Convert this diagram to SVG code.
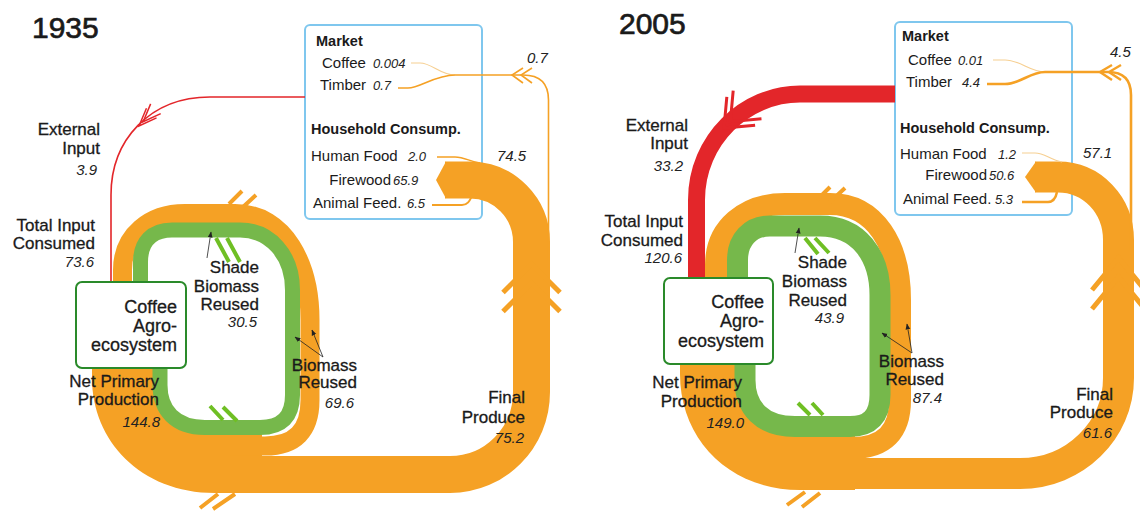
<svg xmlns="http://www.w3.org/2000/svg" width="1140" height="511" viewBox="0 0 1140 511">
<style>
text{font-family:"Liberation Sans",Arial,Helvetica,sans-serif;fill:#1a1a1a}
.t{font-size:30px;stroke:#1a1a1a;stroke-width:0.7}
.lb{font-size:17px;stroke:#1a1a1a;stroke-width:0.3}
.bx{font-size:18px;stroke:#1a1a1a;stroke-width:0.3}
.v{font-size:15px;font-style:italic;fill:#222}
.m{font-size:15px}
.mb{font-size:14.5px;font-weight:bold}
.mv{font-size:13px;font-style:italic;fill:#222}
.e{text-anchor:end}
.or{fill:none;stroke:#f5a125}
.orf{fill:#f5a125}
.gr{fill:none;stroke:#76b84b}
.rd{fill:none;stroke:#e3262a}
.pale{fill:none;stroke:#f6cf91}
.bo{stroke:#f5a125;stroke-width:4;fill:none}
.bg{stroke:#6fbf24;stroke-width:4;fill:none}
.ar{stroke:#222;stroke-width:0.8;fill:none;marker-end:url(#ah)}
.node-c rect{fill:#fff;stroke:#2a8a2a;stroke-width:2}
.node-m rect{fill:#fff;stroke:#7fc7ee;stroke-width:2}
</style>
<defs>
<marker id="ah" viewBox="0 0 10 10" refX="9" refY="5" markerUnits="userSpaceOnUse" markerWidth="6" markerHeight="6" orient="auto"><path d="M0,1 L10,5 L0,9 z" fill="#222"/></marker>
</defs>

<!-- Market nodes -->
<g id="market-1935" class="node-m">
<rect x="305" y="25" width="177" height="194" rx="5"/>
</g>
<g id="market-2005" class="node-m">
<rect x="895" y="22" width="177" height="193" rx="5"/>
</g>

<g id="connectors">
<!-- 1935 -->
<path class="rd" stroke-width="1.6" d="M305 97 L210 97 C150 97 111 140 111 195 L111 283"/>
<path class="rd" stroke-width="1.5" transform="translate(139,126) rotate(134)" d="M-18 -7 L0 0 L-18 7 M-24 -7 L-6 0 L-24 7"/>
<path class="orf" d="M92 368 L162 368 L162 390 C162 415 177 430 205 430 L262 430 L262 493 L215 493 C140 493 92 440 92 378 Z"/>
<path class="or" stroke-width="19" d="M122.5 283 L122.5 270 C122.5 235 150 213.5 185 213.5 L235 213.5 C285 213.5 310 265 310 320 L310 400 Q310 446 265 446 L230 446"/>
<path class="bo" d="M229 204 L242 191 M243 207 L256 195 M200 508 L218 494 M213 509 L235 494"/>
<path class="gr" stroke-width="15" d="M160 368 L160 385 C160 410 175 427.5 205 427.5 L260 427.5 Q292.5 427.5 292.5 395 L292.5 290 C292.5 255 270 230 240 230 L172 230 C152 230 140.5 242 140.5 262 L140.5 283"/>
<path class="bg" d="M216 238 L229 262 M227 238 L240 262 M210 406 L223 420 M223 407 L237 421"/>
<path class="or" stroke-width="37" d="M445 180 L470 180 C504 180 531.5 208 531.5 242 L531.5 392 C531.5 438 495 474.5 450 474.5 L250 474.5"/>
<polygon class="orf" points="446,161.5 436,180 446,198.5"/>
<path class="or" stroke-width="5" d="M503 292.5 L531.5 264 L560 292.5 M503 311.5 L531.5 283 L560 311.5"/>
<path class="or" stroke-width="1.6" d="M548.5 260 L548.5 100 Q548.5 75 523 75 L455 75"/>
<path class="pale" stroke-width="1.2" d="M455 75 C440 75 432 63 420 63 L411 63"/>
<path class="or" stroke-width="1.6" d="M455 75 C435 75 420 88 408 88 L398 88"/>
<path class="or" stroke-width="1.6" d="M523 68 L512 75 L523 83 M532 68 L521 75 L532 83"/>
<path class="or" stroke-width="1.3" d="M437 157 L455 157 C465 157 470 162 480 163"/>
<path class="or" stroke-width="2" d="M432 205 L462 205 C468 205 470 200 472 196"/>

<!-- 2005 -->
<path class="rd" stroke-width="17" d="M895 94 L800 94 C745 94 696.5 140 696.5 200 L696.5 280"/>
<path class="rd" stroke-width="3" transform="translate(724,128) rotate(135)" d="M-24 -20 L0 0 L-24 20 M-33 -20 L-9 0 L-33 20"/>
<path class="orf" d="M680 364 L750 364 L750 385 C750 410 765 428 795 428 L855 428 L855 490 L800 490 C730 490 680 440 680 374 Z"/>
<path class="or" stroke-width="22" d="M716 280 L716 265 C716 228 745 204 785 204 L830 204 C875 204 900 245 900 300 L900 400 Q900 448 852 448 L820 448"/>
<path class="bo" d="M817 200 L830 187 M830 202 L845 188 M787 505 L805 492 M802 507 L820 493"/>
<path class="gr" stroke-width="21" d="M745 364 L745 380 C745 408 762 426.5 795 426.5 L850 426.5 Q880 426.5 880 395 L880 295 C880 255 858 226 820 226 L770 226 C750 226 737.5 240 737.5 260 L737.5 279"/>
<path class="bg" d="M805 238 L818 254 M815 238 L829 253 M798 403 L810 415 M812 403 L823 415"/>
<path class="or" stroke-width="31" d="M1035 177 L1058 177 C1092 177 1118.5 205 1118.5 240 L1118.5 378 C1118.5 430 1075 473.5 1020 473.5 L840 473.5"/>
<polygon class="orf" points="1036,161.5 1025,177 1036,192.5"/>
<path class="or" stroke-width="5" d="M1092 290 L1118.5 258 L1145 290 M1092 309 L1118.5 277 L1145 309"/>
<path class="or" stroke-width="2.6" d="M1131 250 L1131 95 Q1131 72 1108 72 L1045 72"/>
<path class="pale" stroke-width="1.2" d="M1045 72 C1030 72 1020 60 1005 60 L993 60"/>
<path class="or" stroke-width="2.6" d="M1045 72 C1030 72 1020 84 1005 84 L987 84"/>
<path class="or" stroke-width="2.4" d="M1112 65 L1100 72 L1112 80 M1121 65 L1109 72 L1121 80"/>
<path class="pale" stroke-width="1.2" d="M1022 153 L1035 153 C1045 153 1050 160 1062 162"/>
<path class="or" stroke-width="2.5" d="M1022 202 L1048 202 C1054 202 1056 197 1057 192"/>

<!-- pointer arrows -->
<path class="ar" d="M207 258 L211 232"/>
<path class="ar" d="M323 357 L295 337"/>
<path class="ar" d="M323 357 L312 330"/>
<path class="ar" d="M795 253 L799 228"/>
<path class="ar" d="M912 353 L882 333"/>
<path class="ar" d="M912 353 L907 324"/>
</g>

<!-- Coffee agro-ecosystem nodes -->
<g id="coffee-1935" class="node-c">
<rect x="76" y="282" width="110" height="86" rx="6"/>
<text class="bx e" x="177" y="313">Coffee</text>
<text class="bx e" x="177" y="332">Agro-</text>
<text class="bx e" x="177" y="351">ecosystem</text>
</g>
<g id="coffee-2005" class="node-c">
<rect x="664" y="278" width="109" height="86" rx="6"/>
<text class="bx e" x="764" y="308">Coffee</text>
<text class="bx e" x="764" y="327">Agro-</text>
<text class="bx e" x="764" y="347">ecosystem</text>
</g>

<g id="market-1935-text">
<text class="mb" x="316" y="46">Market</text>
<text class="m" x="322" y="68">Coffee</text><text class="mv" x="373" y="68">0.004</text>
<text class="m" x="320" y="90">Timber</text><text class="mv" x="373" y="90">0.7</text>
<text class="mb" x="311" y="134">Household Consump.</text>
<text class="m" x="311" y="161">Human Food</text><text class="mv" x="408" y="161">2.0</text>
<text class="m e" x="391" y="185">Firewood</text><text class="mv" x="393" y="185">65.9</text>
<text class="m" x="313" y="208">Animal Feed.</text><text class="mv" x="407" y="208">6.5</text>
</g>
<g id="market-2005-text">
<text class="mb" x="902" y="41">Market</text>
<text class="m" x="908" y="65">Coffee</text><text class="mv" x="958" y="65">0.01</text>
<text class="m" x="906" y="87">Timber</text><text class="mv" x="962" y="87">4.4</text>
<text class="mb" x="900" y="133">Household Consump.</text>
<text class="m" x="900" y="159">Human Food</text><text class="mv" x="998" y="159">1.2</text>
<text class="m e" x="987" y="180">Firewood</text><text class="mv" x="989" y="180">50.6</text>
<text class="m" x="903" y="204">Animal Feed.</text><text class="mv" x="995" y="204">5.3</text>
</g>

<g id="labels-1935">
<text class="t" x="32" y="38">1935</text>
<text class="lb e" x="100" y="135">External</text>
<text class="lb e" x="100" y="154">Input</text>
<text class="v e" x="97" y="175">3.9</text>
<text class="lb e" x="95" y="231">Total Input</text>
<text class="lb e" x="95" y="249">Consumed</text>
<text class="v e" x="94" y="267">73.6</text>
<text class="lb e" x="259" y="273">Shade</text>
<text class="lb e" x="259" y="292">Biomass</text>
<text class="lb e" x="259" y="310">Reused</text>
<text class="v e" x="257" y="327">30.5</text>
<text class="lb e" x="159" y="387">Net Primary</text>
<text class="lb e" x="159" y="405">Production</text>
<text class="v e" x="160" y="427">144.8</text>
<text class="lb e" x="357" y="371">Biomass</text>
<text class="lb e" x="357" y="388">Reused</text>
<text class="v e" x="354" y="408">69.6</text>
<text class="lb e" x="525" y="403">Final</text>
<text class="lb e" x="525" y="423">Produce</text>
<text class="v e" x="524" y="443">75.2</text>
<text class="v" x="527" y="63">0.7</text>
<text class="v" x="497" y="161">74.5</text>
</g>
<g id="labels-2005">
<text class="t" x="619" y="34">2005</text>
<text class="lb e" x="688" y="131">External</text>
<text class="lb e" x="688" y="149">Input</text>
<text class="v e" x="683" y="171">33.2</text>
<text class="lb e" x="683" y="227">Total Input</text>
<text class="lb e" x="683" y="246">Consumed</text>
<text class="v e" x="682" y="263">120.6</text>
<text class="lb e" x="847" y="268">Shade</text>
<text class="lb e" x="847" y="287">Biomass</text>
<text class="lb e" x="847" y="306">Reused</text>
<text class="v e" x="844" y="323">43.9</text>
<text class="lb e" x="742" y="388">Net Primary</text>
<text class="lb e" x="742" y="407">Production</text>
<text class="v e" x="744" y="428">149.0</text>
<text class="lb e" x="944" y="367">Biomass</text>
<text class="lb e" x="944" y="385">Reused</text>
<text class="v e" x="942" y="403">87.4</text>
<text class="lb e" x="1113" y="400">Final</text>
<text class="lb e" x="1113" y="418">Produce</text>
<text class="v e" x="1112" y="438">61.6</text>
<text class="v" x="1110" y="57">4.5</text>
<text class="v" x="1083" y="158">57.1</text>
</g>
</svg>
